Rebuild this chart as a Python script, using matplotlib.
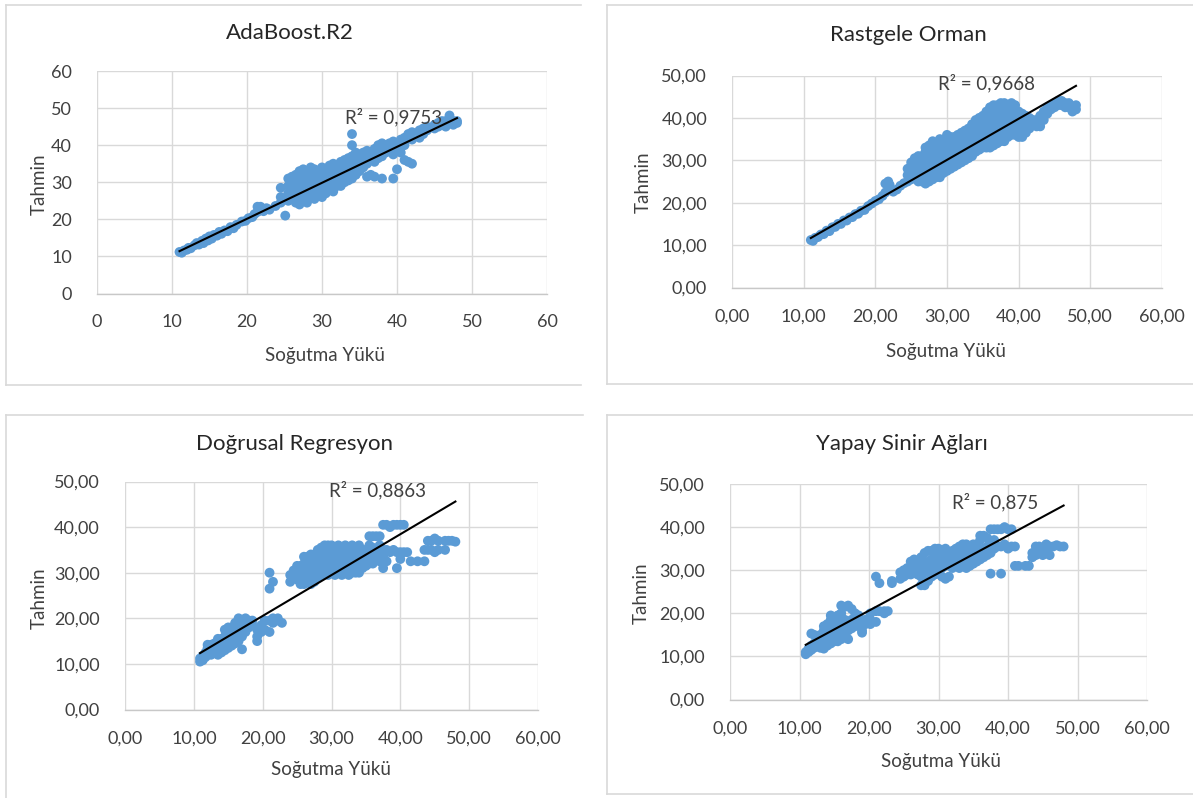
import matplotlib
matplotlib.use("Agg")
import matplotlib.pyplot as plt
from matplotlib.lines import Line2D
from matplotlib.ticker import FuncFormatter, MultipleLocator
import numpy as np

plt.rcParams["font.family"] = ["Lato", "DejaVu Sans"]

W, H = 1193, 798
BLUE = "#5B9BD5"
GREY = "#404040"
GRID = "#d9d9d9"

titles = ["AdaBoost.R2", "Rastgele Orman", "Doğrusal Regresyon", "Yapay Sinir Ağları"]
r2_text = ["R² = 0,9753", "R² = 0,9668", "R² = 0,8863", "R² = 0,875"]
# trendline slope / intercept
trend_slope = [0.970, 0.970, 0.896, 0.871]
trend_icpt = [0.75, 1.0, 2.6, 3.2]
x_label = "Soğutma Yükü"
y_label = "Tahmin"

# scatter clouds, as (cooling load, [predictions at that load])
ada_cols = [
    (11.0, [11.2]), (11.3, [11.0]), (11.6, [11.6]), (12.0, [11.8]), (12.2, [12.3]),
    (12.5, [12.2]), (13.0, [13.0]), (13.3, [13.6]), (13.6, [13.2]), (14.0, [14.2]),
    (14.2, [13.6]), (14.5, [14.8]), (14.8, [14.3]), (15.0, [15.4]), (15.3, [14.8]),
    (15.6, [15.8]), (16.0, [15.6]), (16.3, [16.6]), (16.6, [16.1]), (17.0, [17.0]),
    (17.4, [16.8]), (17.8, [17.9]), (18.2, [17.6]), (18.6, [18.5]), (19.3, [19.4]),
    (19.8, [19.6]), (20.2, [20.3]), (20.7, [20.6]), (21.0, [21.4]), (21.4, [22.0, 23.4]),
    (21.8, [23.4]), (22.2, [22.2]), (22.6, [23.0]), (23.0, [22.6]), (23.8, [23.6]),
    (25.1, [21.0]),
    (24.5, [24.5, 26.0, 28.5]), (25.5, [25.0, 27.0, 29.0, 31.0]),
    (26.0, [26.0, 28.0, 30.0, 31.5]), (26.5, [24.5, 27.0, 29.5, 32.0]),
    (27.0, [24.0, 26.0, 28.0, 30.0, 33.0]), (27.5, [25.0, 27.5, 29.0, 31.5, 33.5]),
    (28.0, [24.5, 26.5, 29.0, 31.0, 33.0]), (28.5, [26.0, 28.0, 30.0, 32.0, 34.0]),
    (29.0, [25.5, 27.5, 29.5, 31.5, 33.5]), (29.5, [27.0, 29.0, 31.0, 33.0]),
    (30.0, [26.0, 28.0, 30.0, 32.0, 34.0]), (30.5, [27.0, 29.5, 31.5, 33.5]),
    (31.0, [28.0, 30.0, 32.0, 34.5]), (31.5, [27.5, 29.0, 31.0, 33.0, 35.0]),
    (32.0, [29.0, 30.5, 32.5, 34.5]), (32.5, [29.0, 31.0, 33.0, 35.5]),
    (33.0, [30.0, 32.0, 34.0, 36.0]), (33.5, [30.5, 32.5, 34.5, 36.5]),
    (34.0, [31.0, 33.0, 35.0, 37.0, 40.0, 43.0]), (34.5, [32.0, 34.0, 36.0, 38.0]),
    (35.0, [33.0, 35.0, 37.5]), (35.5, [34.0, 36.0, 38.0]),
    (36.0, [31.5, 35.0, 37.0, 38.5]), (36.5, [32.0, 36.0, 38.0]),
    (37.0, [31.5, 35.5, 37.5, 39.0]), (37.5, [36.5, 38.5, 40.0]),
    (38.0, [31.0, 37.0, 39.0, 40.5]), (38.5, [38.0, 40.0]), (39.0, [38.5, 40.5]),
    (39.5, [31.0, 37.5, 39.5, 41.0]), (40.0, [33.5, 39.0, 40.5]),
    (40.5, [38.0, 40.5, 41.5]), (41.0, [36.0, 40.0, 42.0]), (41.5, [35.5, 42.0, 43.0]),
    (42.0, [35.0, 41.5, 43.5]), (43.0, [42.0, 44.0]), (43.5, [43.0, 44.5]),
    (44.0, [44.0, 45.0]), (45.0, [44.5, 45.5]), (45.5, [45.0, 46.0]),
    (46.0, [45.5, 46.5]), (46.5, [45.0, 46.5]), (47.0, [46.0, 48.0]),
    (47.5, [45.5, 46.5]), (48.0, [46.0, 46.5]),
]

rf_cols = [
    (11.0, [11.2]), (11.3, [11.0]), (11.6, [11.7]), (12.0, [11.9]), (12.4, [12.5]),
    (12.8, [12.6]), (13.2, [13.4]), (13.6, [13.3]), (14.0, [14.2]), (14.4, [14.3]),
    (14.8, [15.0]), (15.2, [15.0]), (15.6, [15.8]), (16.0, [15.8]), (16.4, [16.5]),
    (16.8, [16.6]), (17.2, [17.3]), (17.6, [17.4]), (18.0, [18.1]), (18.5, [18.3]),
    (19.0, [19.2]), (19.5, [19.8]), (20.0, [20.4]), (20.5, [20.8]), (21.0, [21.6]),
    (21.4, [22.4, 24.5]), (21.8, [25.0]), (22.0, [24.2]), (22.5, [22.6]), (23.0, [23.1]),
    (23.5, [24.0]), (24.0, [24.6]),
    (24.5, [25.0, 26.5, 28.0]), (25.0, [25.5, 27.0, 28.5, 29.5]),
    (25.5, [26.0, 27.5, 29.0, 30.5]), (26.0, [25.0, 26.5, 28.0, 29.5, 31.0]),
    (26.5, [25.0, 26.5, 28.0, 29.5, 31.0]), (27.0, [24.5, 26.0, 27.5, 29.0, 30.5, 32.0, 33.0]),
    (27.5, [25.0, 26.5, 28.0, 29.5, 31.0, 32.5, 33.5]),
    (28.0, [25.5, 27.0, 28.5, 30.0, 31.5, 33.0, 34.5]),
    (28.5, [26.0, 27.5, 29.0, 30.5, 32.0, 33.5]),
    (29.0, [26.0, 27.5, 29.0, 30.5, 32.0, 33.5, 35.0]),
    (29.5, [27.0, 28.5, 30.0, 31.5, 33.0, 34.5]),
    (30.0, [27.5, 29.0, 30.5, 32.0, 33.5, 35.0, 36.0]),
    (30.5, [28.0, 29.5, 31.0, 32.5, 34.0, 35.5]),
    (31.0, [28.5, 30.0, 31.5, 33.0, 34.5, 35.5]),
    (31.5, [29.0, 30.5, 32.0, 33.5, 35.0, 36.0]),
    (32.0, [29.5, 31.0, 32.5, 34.0, 35.5, 36.5]),
    (32.5, [30.0, 31.5, 33.0, 34.5, 36.0, 37.0]),
    (33.0, [30.5, 32.0, 33.5, 35.0, 36.5, 37.5]),
    (33.5, [31.0, 32.5, 34.0, 35.5, 37.0, 38.5]),
    (34.0, [32.0, 33.5, 35.0, 36.5, 38.0, 39.5]),
    (34.5, [32.5, 34.0, 35.5, 37.0, 38.5, 40.0]),
    (35.0, [33.0, 34.5, 36.0, 37.5, 39.0, 40.5]),
    (35.5, [33.0, 34.5, 36.0, 37.5, 39.0, 41.5]),
    (36.0, [33.0, 34.5, 36.5, 38.0, 39.5, 41.0, 42.5]),
    (36.5, [33.5, 35.0, 37.0, 38.5, 40.0, 41.5, 43.0]),
    (37.0, [34.0, 35.5, 37.5, 39.0, 41.0, 42.5, 43.0]),
    (37.5, [34.5, 36.0, 38.0, 40.0, 41.5, 43.5]),
    (38.0, [34.5, 36.5, 38.5, 40.5, 42.0, 43.5]),
    (38.5, [35.5, 37.0, 39.0, 41.0, 42.5, 43.0]),
    (39.0, [36.0, 37.5, 39.5, 41.5, 43.0, 43.5]),
    (39.5, [36.0, 38.0, 40.0, 41.5, 43.0]),
    (40.0, [35.5, 37.5, 40.0, 41.5]), (40.5, [35.5, 37.0, 39.0, 41.0]),
    (41.0, [36.5, 38.5, 40.5]), (41.5, [37.5, 39.0, 40.0]), (42.0, [38.5, 39.5]),
    (42.5, [38.0, 39.5]), (43.0, [38.0, 40.5]), (43.5, [39.5, 41.5]),
    (44.0, [41.0, 42.5]), (44.5, [42.0, 43.0]), (45.0, [42.5, 43.5]),
    (45.5, [43.0, 44.0]), (46.0, [43.0, 44.0]), (46.5, [43.5, 42.5]),
    (47.0, [42.5, 43.5]), (47.5, [41.5, 42.5]), (48.0, [42.0, 43.0]),
]

lr_cols = [
    (10.9, [10.5, 11.2]), (11.3, [10.8, 11.8]), (11.7, [11.5, 12.5]),
    (12.0, [12.0, 13.5, 14.2]), (12.5, [12.0, 13.0, 14.2]), (13.0, [12.5, 13.5, 14.5]),
    (13.5, [12.0, 13.0, 14.5, 15.5]), (14.0, [12.5, 14.0, 15.5]),
    (14.5, [13.0, 14.5, 16.0, 17.5]), (15.0, [13.5, 15.0, 16.5, 18.0]),
    (15.5, [14.0, 15.5, 17.0, 18.0]), (16.0, [14.5, 16.0, 17.5, 19.0]),
    (16.5, [15.0, 16.5, 18.0, 20.0]), (17.0, [13.2, 16.0, 17.5, 19.5]),
    (17.5, [17.0, 18.5, 20.0]), (18.0, [18.0, 19.5]), (18.5, [18.5, 19.5]),
    (19.2, [15.0, 16.0, 17.5]), (19.8, [17.0, 18.5]), (20.3, [17.5, 19.5]),
    (21.0, [17.0, 19.5, 26.5, 30.0]), (21.5, [19.0, 20.0, 28.0]), (22.2, [19.5, 20.0]),
    (22.8, [19.0]),
    (24.0, [28.0, 29.5]), (24.5, [29.0, 30.5]), (25.0, [28.5, 30.0, 31.5]),
    (25.5, [27.5, 29.0, 31.5]), (26.0, [27.5, 29.0, 30.5, 32.0, 33.5]),
    (26.5, [28.0, 29.5, 33.5]), (27.0, [27.5, 29.0, 31.0, 32.5, 34.0]),
    (27.5, [28.0, 30.5, 32.0, 34.0]), (28.0, [29.0, 31.0, 33.0, 35.0]),
    (28.5, [29.5, 31.5, 33.5, 35.5]), (29.0, [30.0, 32.0, 34.0, 36.0]),
    (29.5, [29.5, 31.0, 33.0, 35.0, 36.0]), (30.0, [30.0, 32.0, 34.0, 36.0]),
    (30.5, [29.5, 31.5, 33.5, 35.5]), (31.0, [30.0, 32.0, 34.0, 36.0]),
    (31.5, [29.5, 31.0, 33.0, 35.0]), (32.0, [30.0, 32.0, 34.0, 36.0]),
    (32.5, [29.5, 31.5, 33.5, 35.5]), (33.0, [30.0, 32.0, 34.0, 36.0]),
    (33.5, [30.0, 31.5, 33.0, 35.0]), (34.0, [30.0, 32.0, 34.0, 36.0]),
    (34.5, [31.0, 33.0, 35.0]), (35.0, [31.5, 33.5, 35.0]),
    (35.5, [32.0, 34.0, 36.0, 38.0]), (36.0, [32.0, 34.0, 35.5, 38.0]),
    (36.5, [33.0, 35.0, 38.0]), (37.0, [32.5, 34.5, 36.0, 38.0]),
    (37.5, [31.0, 33.5, 35.0, 40.5]), (38.0, [32.5, 35.0, 40.5]),
    (38.5, [34.5, 40.0]), (39.0, [35.0, 40.5]), (39.5, [31.0, 34.5, 40.5]),
    (40.0, [33.0, 34.5, 40.5]), (40.5, [34.5, 40.5]), (41.0, [34.5]),
    (41.5, [32.5]), (42.5, [32.5]), (43.5, [32.5, 35.0]), (44.0, [35.0, 37.0]),
    (44.5, [35.0, 37.0]), (45.0, [34.5, 37.5]), (45.5, [35.0, 37.0]),
    (46.5, [35.0, 37.0]), (47.0, [37.0]), (47.5, [37.0]), (48.0, [36.8]),
]

ann_cols = [
    (10.9, [10.5, 11.0]), (11.3, [11.0, 11.8]), (11.7, [11.5, 12.5, 15.3]),
    (12.1, [12.0, 13.0, 15.0]), (12.5, [12.5, 13.5, 14.5]), (13.0, [12.0, 13.5, 15.0]),
    (13.5, [11.8, 13.0, 14.5, 16.0, 17.0]), (14.0, [12.5, 14.0, 15.5, 17.5]),
    (14.5, [13.0, 14.5, 16.5, 18.5, 19.5]), (15.0, [13.5, 15.0, 17.0, 19.0]),
    (15.5, [13.5, 15.5, 17.5, 19.5]), (16.0, [14.0, 16.0, 18.0, 20.0, 21.8]),
    (16.5, [14.5, 16.5, 18.5, 21.5]), (17.0, [14.0, 16.0, 18.0, 21.8]),
    (17.5, [16.5, 18.5, 21.0]), (18.0, [17.0, 19.0, 20.0]), (18.5, [18.5, 19.5]),
    (19.0, [15.5, 16.0, 17.0, 18.0]), (19.5, [17.5, 18.5]), (20.2, [17.5, 18.5, 20.0]),
    (21.0, [18.0, 20.5, 28.5]), (21.5, [20.5, 27.0]), (22.2, [20.0, 20.5]),
    (22.7, [20.5]), (23.3, [27.0, 27.5]),
    (24.5, [28.0, 29.5]), (25.0, [28.5, 30.0]), (25.5, [29.0, 30.5]),
    (26.0, [29.0, 30.5, 32.0]), (26.5, [29.5, 31.0, 32.5]), (27.0, [29.0, 30.5, 32.0]),
    (27.5, [26.5, 28.5, 30.5, 33.0]), (28.0, [26.5, 29.5, 31.5, 34.0]),
    (28.5, [27.5, 30.0, 32.0, 34.5]), (29.0, [28.5, 30.5, 32.5, 34.5]),
    (29.5, [29.0, 31.0, 33.0, 35.0]), (30.0, [29.5, 31.5, 33.5, 35.0]),
    (30.5, [28.5, 30.5, 32.5, 34.5]), (31.0, [28.0, 31.0, 33.0, 35.0]),
    (31.5, [28.5, 31.5, 33.5]), (32.0, [30.5, 32.5, 34.5]), (32.5, [31.0, 33.0, 35.0]),
    (33.0, [30.5, 32.5, 34.5, 35.5]), (33.5, [31.0, 33.0, 35.0, 36.0]),
    (34.0, [30.5, 32.5, 34.5, 36.0]), (34.5, [31.0, 33.5, 35.5]),
    (35.0, [31.5, 33.5, 35.0, 36.0]), (35.5, [32.0, 34.0, 36.0]),
    (36.0, [32.5, 34.5, 37.0, 38.0]), (36.5, [33.0, 35.0, 38.0]),
    (37.0, [33.5, 35.5, 37.5]), (37.5, [29.2, 34.0, 36.0, 39.5]),
    (38.0, [35.0, 37.0, 39.5]), (38.5, [35.5, 39.5]), (39.0, [29.2, 35.5, 39.5]),
    (39.5, [36.0, 40.0]), (40.0, [35.0, 39.5]), (40.5, [35.5, 39.5]),
    (41.0, [31.0, 35.5]), (41.5, [31.0]), (42.5, [31.0]), (43.0, [31.0]),
    (43.5, [33.0, 34.0]), (44.0, [33.5, 35.5]), (44.5, [34.0, 35.5]),
    (45.0, [33.5, 35.0]), (45.5, [34.0, 36.0]), (46.0, [33.5, 35.5]),
    (46.5, [35.5]), (47.0, [35.8]), (47.5, [35.5]), (48.0, [35.5]),
]

clouds = [ada_cols, rf_cols, lr_cols, ann_cols]

# ---- layout (pixels) ----
# plot areas: left, right, top, bottom
areas = [(97, 547, 71, 293.5), (732, 1162, 75.5, 287.5),
         (125, 538, 481.5, 709.5), (730, 1147, 484, 699.5)]
ymax = [60, 50, 50, 50]
decimals = [0, 2, 2, 2]
title_pos = [(290, 33), (908, 35), (294, 444), (902, 444)]
xlabel_pos = [(325, 355), (946, 352), (331, 770), (941, 762)]
ylabel_pos = [(39, 184), (643, 182), (39, 598), (641, 593)]
r2_pos = [(33.1, 47.7), (28.8, 48.2), (29.6, 48.1), (32.0, 45.8)]

fig = plt.figure(figsize=(W / 100, H / 100), dpi=100)


def fx(x):
    return x / W


def fy(y):
    return 1 - y / H


# chart frames (light grey borders, some edges cut off in the source)
frames = [
    [(5.8, 581, 5, 5), (5.8, 5.8, 5, 385), (5.8, 581, 385, 385)],
    [(607, 1193, 5, 5), (607, 607, 5, 384), (607, 1193, 384, 384)],
    [(6, 583, 415, 415), (6, 6, 415, 798)],
    [(607, 1193, 415, 415), (607, 607, 415, 794), (607, 1193, 794, 794)],
]
for fr in frames:
    for x0, x1, y0, y1 in fr:
        fig.add_artist(Line2D([fx(x0), fx(x1)], [fy(y0), fy(y1)],
                              color=GRID, lw=1.2, transform=fig.transFigure))

for i in range(4):
    l, r, t, b = areas[i]
    ax = fig.add_axes([fx(l), fy(b), (r - l) / W, (b - t) / H])
    pts = [(x, y) for x, ys in clouds[i] for y in ys]
    xs = np.array([p[0] for p in pts])
    ys = np.array([p[1] for p in pts])
    ax.scatter(xs, ys, s=50, color=BLUE, edgecolors="none", zorder=3)

    xt = np.array([xs.min(), xs.max()])
    ax.plot(xt, trend_slope[i] * xt + trend_icpt[i], color="black", lw=1.5, zorder=4)

    ax.set_xlim(0, 60)
    ax.set_ylim(0, ymax[i])
    ax.xaxis.set_major_locator(MultipleLocator(10))
    ax.yaxis.set_major_locator(MultipleLocator(10))
    d = decimals[i]
    fmt = FuncFormatter(lambda v, p, d=d: f"{v:.{d}f}".replace(".", ","))
    ax.xaxis.set_major_formatter(fmt)
    ax.yaxis.set_major_formatter(fmt)
    ax.grid(True, color=GRID, lw=1.0, zorder=0)
    ax.set_axisbelow(True)
    for s in ["top", "right", "left"]:
        ax.spines[s].set_visible(False)
    ax.spines["bottom"].set_color("#c8c8c8")
    ax.spines["bottom"].set_linewidth(1.0)
    ax.tick_params(axis="both", length=0, labelsize=13, labelcolor=GREY)
    ax.tick_params(axis="x", pad=15)
    ax.tick_params(axis="y", pad=18)
    for lab in ax.get_xticklabels() + ax.get_yticklabels():
        lab.set_clip_on(False)

    ax.text(r2_pos[i][0], r2_pos[i][1], r2_text[i], fontsize=13.5, color=GREY,
            ha="left", va="center", zorder=5)

    fig.text(fx(title_pos[i][0]), fy(title_pos[i][1]), titles[i], fontsize=16,
             color="#262626", ha="center", va="center")
    fig.text(fx(xlabel_pos[i][0]), fy(xlabel_pos[i][1]), x_label, fontsize=13.5,
             color=GREY, ha="center", va="center")
    fig.text(fx(ylabel_pos[i][0]), fy(ylabel_pos[i][1]), y_label, fontsize=13.5,
             color=GREY, ha="center", va="center", rotation=90)

fig.savefig("out.png", dpi=100, facecolor="white")
